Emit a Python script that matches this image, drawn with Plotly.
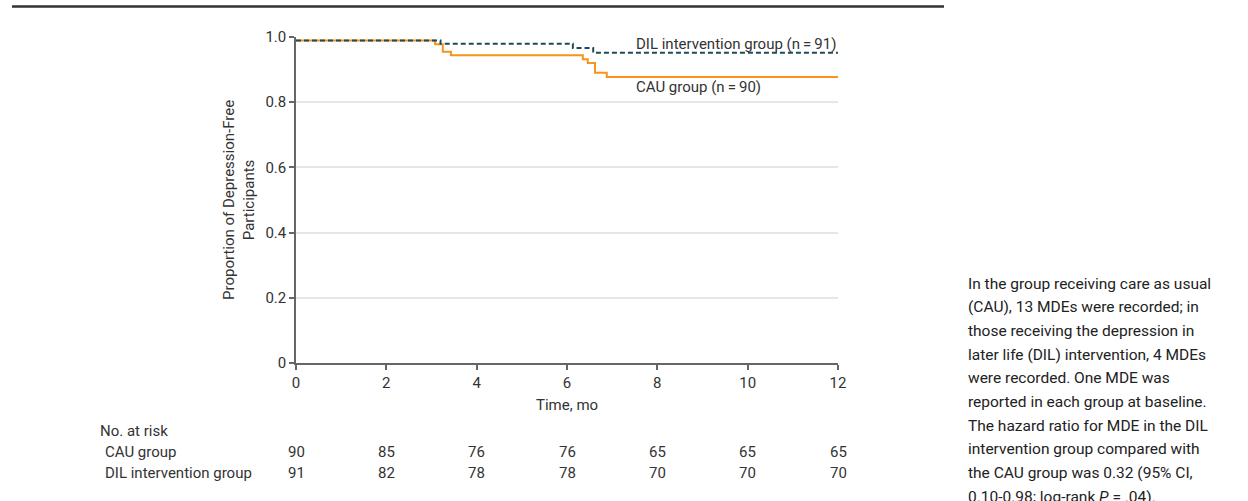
import plotly.graph_objects as go

# ---- data ----
time_cau = [0, 3.08, 3.25, 3.43, 6.35, 6.46, 6.62, 6.88, 12]
surv_cau = [0.989, 0.978, 0.955, 0.944, 0.932, 0.920, 0.890, 0.877, 0.877]
time_dil = [0, 3.2, 6.13, 6.58, 12]
surv_dil = [0.989, 0.979, 0.966, 0.952, 0.952]

risk_times = [0, 2, 4, 6, 8, 10, 12]
risk_cau = [90, 85, 76, 76, 65, 65, 65]
risk_dil = [91, 82, 78, 78, 70, 70, 70]

y_tickvals = [0, 0.2, 0.4, 0.6, 0.8, 1.0]
y_ticktext = ["0", "0.2", "0.4", "0.6", "0.8", "1.0"]
x_tickvals = [0, 2, 4, 6, 8, 10, 12]

caption_lines = [
    "In the group receiving care as usual",
    "(CAU), 13 MDEs were recorded; in",
    "those receiving the depression in",
    "later life (DIL) intervention, 4 MDEs",
    "were recorded. One MDE was",
    "reported in each group at baseline.",
    "The hazard ratio for MDE in the DIL",
    "intervention group compared with",
    "the CAU group was 0.32 (95% CI,",
    "0.10-0.98; log-rank <i>P</i> = .04).",
]

ORANGE = "#F7941D"
TEAL = "#1F4A59"
TXT = "#333333"
FONT = "Roboto"
FS = 15

# ---- layout geometry (reference pixel coords) ----
W, H = 1248, 501
L, R, T, B = 296, 838, 37, 363
pw, ph = R - L, B - T


def px(x):
    return (x - L) / pw


def py(y):
    return (B - y) / ph


fig = go.Figure()
fig.add_trace(go.Scatter(x=time_cau, y=surv_cau, mode="lines", line_shape="hv",
                         line=dict(color=ORANGE, width=2), showlegend=False))
fig.add_trace(go.Scatter(x=time_dil, y=surv_dil, mode="lines", line_shape="hv",
                         line=dict(color=TEAL, width=2, dash="5px,3px"), showlegend=False))

ann = []


def txt(x, y, text, xanchor="left", size=FS, xref="paper", **kw):
    ann.append(dict(x=x, y=y, xref=xref, yref="paper", text=text, xanchor=xanchor,
                    yanchor="middle", showarrow=False,
                    font=dict(size=size, color=kw.pop("color", TXT), family=FONT), **kw))


txt(px(634), py(44), "DIL intervention group (n\u2009=\u200991)")
txt(px(634), py(87), "CAU group (n\u2009=\u200990)")
txt(px(239), 0.5, "Proportion of Depression-Free<br>Participants", xanchor="center", textangle=-90)
txt(px(567), py(405), "Time, mo", xanchor="center")
txt(px(98), py(431), "No. at risk")
txt(px(103), py(452), "CAU group")
txt(px(103), py(473), "DIL intervention group")
for t, c, d in zip(risk_times, risk_cau, risk_dil):
    txt(t, py(452), str(c), xanchor="center", xref="x")
    txt(t, py(473), str(d), xanchor="center", xref="x")
for i, line in enumerate(caption_lines):
    txt(px(966), py(283.5 + 23.7 * i), line, size=15.5, color="#222222")

fig.update_layout(
    width=W, height=H,
    margin=dict(l=L, r=W - R, t=T, b=H - B, pad=0),
    paper_bgcolor="white", plot_bgcolor="white",
    font=dict(family=FONT, size=FS, color=TXT),
    annotations=ann,
    shapes=[dict(type="line", xref="paper", yref="paper", x0=px(12), x1=px(944),
                 y0=py(6.5), y1=py(6.5), line=dict(color="#333333", width=2.5))],
    xaxis=dict(range=[0, 12], tickvals=x_tickvals, showgrid=False, zeroline=False,
               showline=True, linecolor="#666666", linewidth=1.5,
               ticks="outside", ticklen=5, tickcolor="#666666", tickwidth=1.5,
               tickfont=dict(size=FS, color=TXT, family=FONT)),
    yaxis=dict(range=[0, 1.0], tickvals=y_tickvals, ticktext=y_ticktext,
               showgrid=True, gridcolor="#E6E6E6", gridwidth=1.5, zeroline=False,
               showline=True, linecolor="#666666", linewidth=1.5,
               ticks="outside", ticklen=5, tickcolor="#666666", tickwidth=1.5,
               tickfont=dict(size=FS, color=TXT, family=FONT)),
)

fig.write_html("out.html", config={"displayModeBar": False},
               post_script="document.body.style.margin='0px';document.body.style.overflow='hidden';")
